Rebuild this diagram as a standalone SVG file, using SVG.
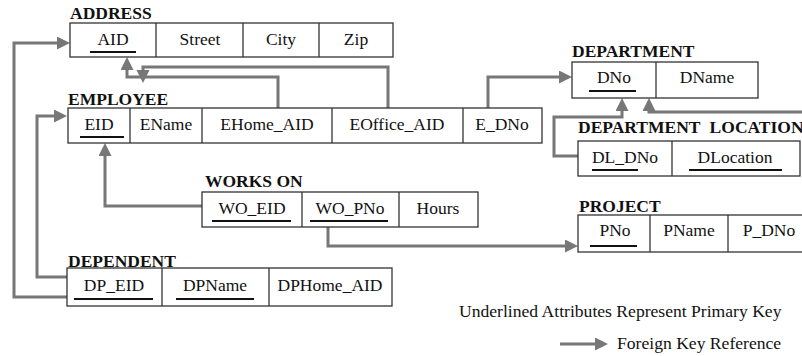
<svg xmlns="http://www.w3.org/2000/svg" width="802" height="356" viewBox="0 0 802 356">
  <style>
    .title { font-family: "Liberation Serif", "Times New Roman", serif; font-weight: bold; font-size: 17.5px; fill: #111; }
    .attr { font-family: "Liberation Serif", "Times New Roman", serif; font-size: 17.5px; fill: #111; text-anchor: middle; }
    .note { font-family: "Liberation Serif", "Times New Roman", serif; font-size: 17.6px; fill: #111; }
    .box { fill: #fff; stroke: #333; stroke-width: 1.3; }
    .div { stroke: #333; stroke-width: 1.3; }
    .pk { stroke: #111; stroke-width: 2.2; }
    .fk { fill: none; stroke: #777; stroke-width: 3; marker-end: url(#arrow); }
  </style>
  <defs>
    <marker id="arrow" markerUnits="userSpaceOnUse" markerWidth="14" markerHeight="14" refX="0" refY="6.5" orient="auto">
      <path d="M0,0 L13,6.5 L0,13 z" fill="#777"/>
    </marker>
  </defs>
  <rect width="802" height="356" fill="#fff"/>

  <!-- foreign key references -->
  <g id="connectors">
    <path class="fk" d="M67,297 H14 V43 H57"/>
    <path class="fk" d="M67,277 H37 V116 H54"/>
    <path class="fk" d="M202,206 H105 V156"/>
    <path class="fk" d="M278,108 V77 H127 V70"/>
    <path class="fk" d="M388,108 V67 H143 V70"/>
    <path class="fk" d="M488,108 V77 H559"/>
    <path class="fk" d="M578,156 H554 V117 H622 V111"/>
    <path class="fk" d="M806,112 H649 V111"/>
    <path class="fk" d="M328,227 V246 H565"/>
  </g>

  <g id="address">
    <text class="title" x="70" y="19">ADDRESS</text>
    <rect class="box" x="70" y="23" width="323" height="34"/>
    <line class="div" x1="156" y1="23" x2="156" y2="57"/>
    <line class="div" x1="243" y1="23" x2="243" y2="57"/>
    <line class="div" x1="319" y1="23" x2="319" y2="57"/>
    <text class="attr" x="113" y="45">AID</text>
    <text class="attr" x="200" y="45">Street</text>
    <text class="attr" x="281" y="45">City</text>
    <text class="attr" x="356" y="45">Zip</text>
    <line class="pk" x1="90" y1="52" x2="136" y2="52"/>
  </g>

  <g id="employee">
    <text class="title" x="68" y="105">EMPLOYEE</text>
    <rect class="box" x="68" y="108" width="474" height="35"/>
    <line class="div" x1="130" y1="108" x2="130" y2="143"/>
    <line class="div" x1="202" y1="108" x2="202" y2="143"/>
    <line class="div" x1="332" y1="108" x2="332" y2="143"/>
    <line class="div" x1="463" y1="108" x2="463" y2="143"/>
    <text class="attr" x="99" y="130">EID</text>
    <text class="attr" x="166" y="130">EName</text>
    <text class="attr" x="267" y="130">EHome_AID</text>
    <text class="attr" x="397" y="130">EOffice_AID</text>
    <text class="attr" x="502" y="130">E_DNo</text>
    <line class="pk" x1="80" y1="137" x2="124" y2="137"/>
  </g>

  <g id="department">
    <text class="title" x="572" y="57">DEPARTMENT</text>
    <rect class="box" x="572" y="62" width="186" height="36"/>
    <line class="div" x1="656" y1="62" x2="656" y2="98"/>
    <text class="attr" x="614" y="83">DNo</text>
    <text class="attr" x="707" y="83">DName</text>
    <line class="pk" x1="589" y1="91" x2="636" y2="91"/>
  </g>

  <g id="department-location">
    <text class="title" x="578" y="133" style="word-spacing:5px">DEPARTMENT LOCATION</text>
    <rect class="box" x="578" y="141" width="222" height="35"/>
    <line class="div" x1="672" y1="141" x2="672" y2="176"/>
    <text class="attr" x="625" y="163">DL_DNo</text>
    <text class="attr" x="735" y="163">DLocation</text>
    <line class="pk" x1="592" y1="170" x2="638" y2="170"/>
    <line class="pk" x1="689" y1="170" x2="782" y2="170"/>
  </g>

  <g id="works-on">
    <text class="title" x="205" y="187">WORKS ON</text>
    <rect class="box" x="202" y="192" width="276" height="35"/>
    <line class="div" x1="302" y1="192" x2="302" y2="227"/>
    <line class="div" x1="399" y1="192" x2="399" y2="227"/>
    <text class="attr" x="252" y="214">WO_EID</text>
    <text class="attr" x="350" y="214">WO_PNo</text>
    <text class="attr" x="438" y="214">Hours</text>
    <line class="pk" x1="212" y1="221" x2="291" y2="221"/>
    <line class="pk" x1="310" y1="221" x2="388" y2="221"/>
  </g>

  <g id="project">
    <text class="title" x="579" y="212">PROJECT</text>
    <rect class="box" x="578" y="215" width="232" height="37"/>
    <line class="div" x1="650" y1="215" x2="650" y2="252"/>
    <line class="div" x1="728" y1="215" x2="728" y2="252"/>
    <text class="attr" x="615" y="236">PNo</text>
    <text class="attr" x="689" y="236">PName</text>
    <text class="attr" x="769" y="236">P_DNo</text>
    <line class="pk" x1="590" y1="246" x2="637" y2="246"/>
  </g>

  <g id="dependent">
    <text class="title" x="68" y="267">DEPENDENT</text>
    <rect class="box" x="67" y="268" width="325" height="38"/>
    <line class="div" x1="162" y1="268" x2="162" y2="306"/>
    <line class="div" x1="269" y1="268" x2="269" y2="306"/>
    <text class="attr" x="114" y="291">DP_EID</text>
    <text class="attr" x="215" y="291">DPName</text>
    <text class="attr" x="330" y="291">DPHome_AID</text>
    <line class="pk" x1="74" y1="299" x2="153" y2="299"/>
    <line class="pk" x1="176" y1="299" x2="254" y2="299"/>
  </g>

  <g id="legend">
    <text class="note" x="459" y="317">Underlined Attributes Represent Primary Key</text>
    <path class="fk" d="M560,344 H595"/>
    <text class="note" x="617" y="349">Foreign Key Reference</text>
  </g>
</svg>
